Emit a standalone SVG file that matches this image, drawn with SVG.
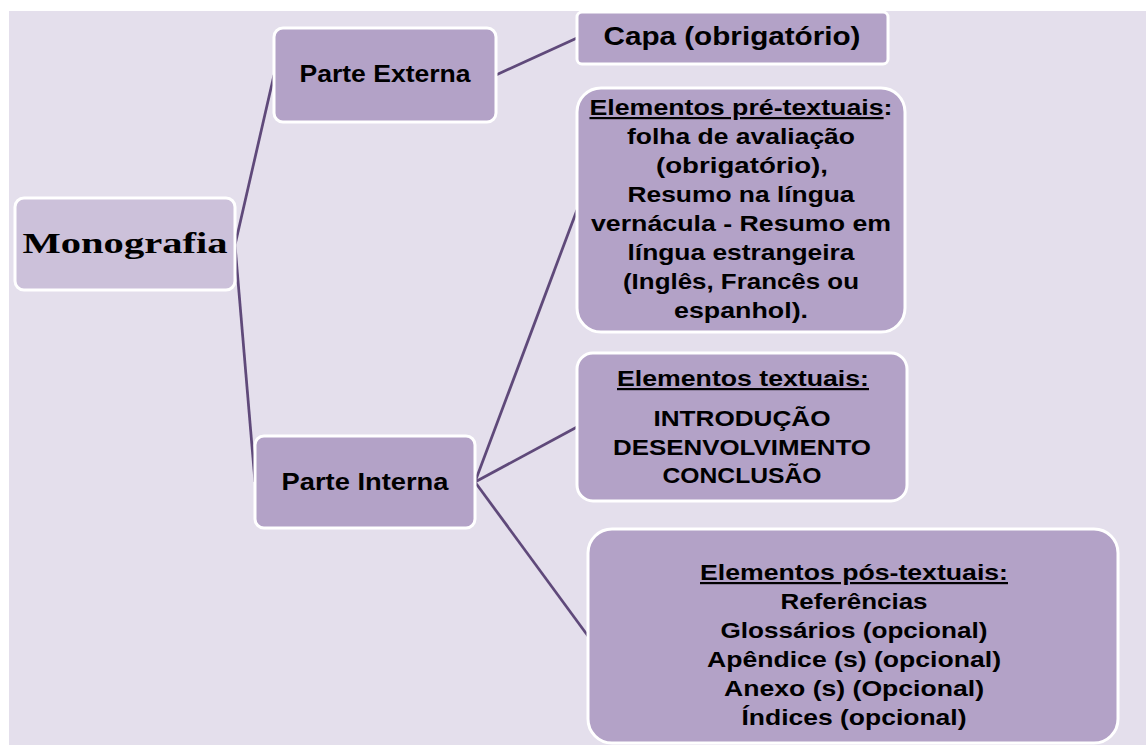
<svg xmlns="http://www.w3.org/2000/svg" width="1146" height="745" viewBox="0 0 1146 745">
<style>
.box{fill:#B3A2C7;stroke:#FFFFFF;stroke-width:3}
.root{fill:#CCC1DA;stroke:#FFFFFF;stroke-width:3}
.t{font-family:"Liberation Sans",Arial,sans-serif;font-weight:bold;font-size:22px;fill:#000;text-anchor:middle}
.p{font-size:23px}
.serif{font-family:"Liberation Serif","Times New Roman",serif;font-weight:bold;font-size:30px;fill:#000;text-anchor:middle}
.u{text-decoration:underline}
.c{stroke:#5F497A;stroke-width:2.75;fill:none}
</style>
<rect x="0" y="0" width="1146" height="745" fill="#FFFFFF"/>
<rect x="9" y="11" width="1137" height="734" fill="#E4DFEC"/>
<g id="connectors">
<line class="c" x1="235" y1="245" x2="274" y2="75"/>
<line class="c" x1="235" y1="245" x2="255" y2="482"/>
<line class="c" x1="496" y1="75" x2="577" y2="38"/>
<line class="c" x1="475" y1="482" x2="577" y2="210"/>
<line class="c" x1="475" y1="482" x2="577" y2="427"/>
<line class="c" x1="475" y1="482" x2="588" y2="636"/>
</g>
<g id="monografia">
<rect class="root" x="15" y="198" width="220" height="92" rx="9"/>
<text class="serif" x="125" y="253" textLength="205" lengthAdjust="spacingAndGlyphs">Monografia</text>
</g>
<g id="parte-externa">
<rect class="box" x="274" y="28" width="222" height="94" rx="9"/>
<text class="t p" x="385" y="82" textLength="171" lengthAdjust="spacingAndGlyphs">Parte Externa</text>
</g>
<g id="parte-interna">
<rect class="box" x="255" y="436" width="220" height="92" rx="9"/>
<text class="t p" x="365" y="490" textLength="167" lengthAdjust="spacingAndGlyphs">Parte Interna</text>
</g>
<g id="capa">
<rect class="box" x="577" y="12" width="311" height="52" rx="5"/>
<text class="t" x="732" y="45" style="font-size:25px" textLength="257" lengthAdjust="spacingAndGlyphs">Capa (obrigatório)</text>
</g>
<g id="pre-textuais">
<rect class="box" x="577" y="88" width="328" height="244" rx="24"/>
<text class="t" x="741" y="115" textLength="303" lengthAdjust="spacingAndGlyphs"><tspan class="u">Elementos pré-textuais</tspan>:</text>
<text class="t" x="741" y="144" textLength="228" lengthAdjust="spacingAndGlyphs">folha de avaliação</text>
<text class="t" x="742" y="173" textLength="172" lengthAdjust="spacingAndGlyphs">(obrigatório),</text>
<text class="t" x="741" y="202" textLength="227" lengthAdjust="spacingAndGlyphs">Resumo na língua</text>
<text class="t" x="741" y="231" textLength="300" lengthAdjust="spacingAndGlyphs">vernácula - Resumo em</text>
<text class="t" x="741" y="260" textLength="227" lengthAdjust="spacingAndGlyphs">língua estrangeira</text>
<text class="t" x="741" y="289" textLength="236" lengthAdjust="spacingAndGlyphs">(Inglês, Francês ou</text>
<text class="t" x="741" y="318" textLength="134" lengthAdjust="spacingAndGlyphs">espanhol).</text>
</g>
<g id="textuais">
<rect class="box" x="577" y="353" width="330" height="148" rx="16"/>
<text class="t u" x="743" y="386" textLength="252" lengthAdjust="spacingAndGlyphs">Elementos textuais:</text>
<text class="t" x="742" y="426" textLength="177" lengthAdjust="spacingAndGlyphs">INTRODUÇÃO</text>
<text class="t" x="742" y="455" textLength="258" lengthAdjust="spacingAndGlyphs">DESENVOLVIMENTO</text>
<text class="t" x="742" y="483" textLength="159" lengthAdjust="spacingAndGlyphs">CONCLUSÃO</text>
</g>
<g id="pos-textuais">
<rect class="box" x="588" y="529" width="530" height="214" rx="24"/>
<text class="t u" x="854" y="580" textLength="308" lengthAdjust="spacingAndGlyphs">Elementos pós-textuais:</text>
<text class="t" x="854" y="609" textLength="147" lengthAdjust="spacingAndGlyphs">Referências</text>
<text class="t" x="854" y="638" textLength="267" lengthAdjust="spacingAndGlyphs">Glossários (opcional)</text>
<text class="t" x="854" y="667" textLength="294" lengthAdjust="spacingAndGlyphs">Apêndice (s) (opcional)</text>
<text class="t" x="854" y="696" textLength="260" lengthAdjust="spacingAndGlyphs">Anexo (s) (Opcional)</text>
<text class="t" x="854" y="725" textLength="225" lengthAdjust="spacingAndGlyphs">Índices (opcional)</text>
</g>
</svg>
